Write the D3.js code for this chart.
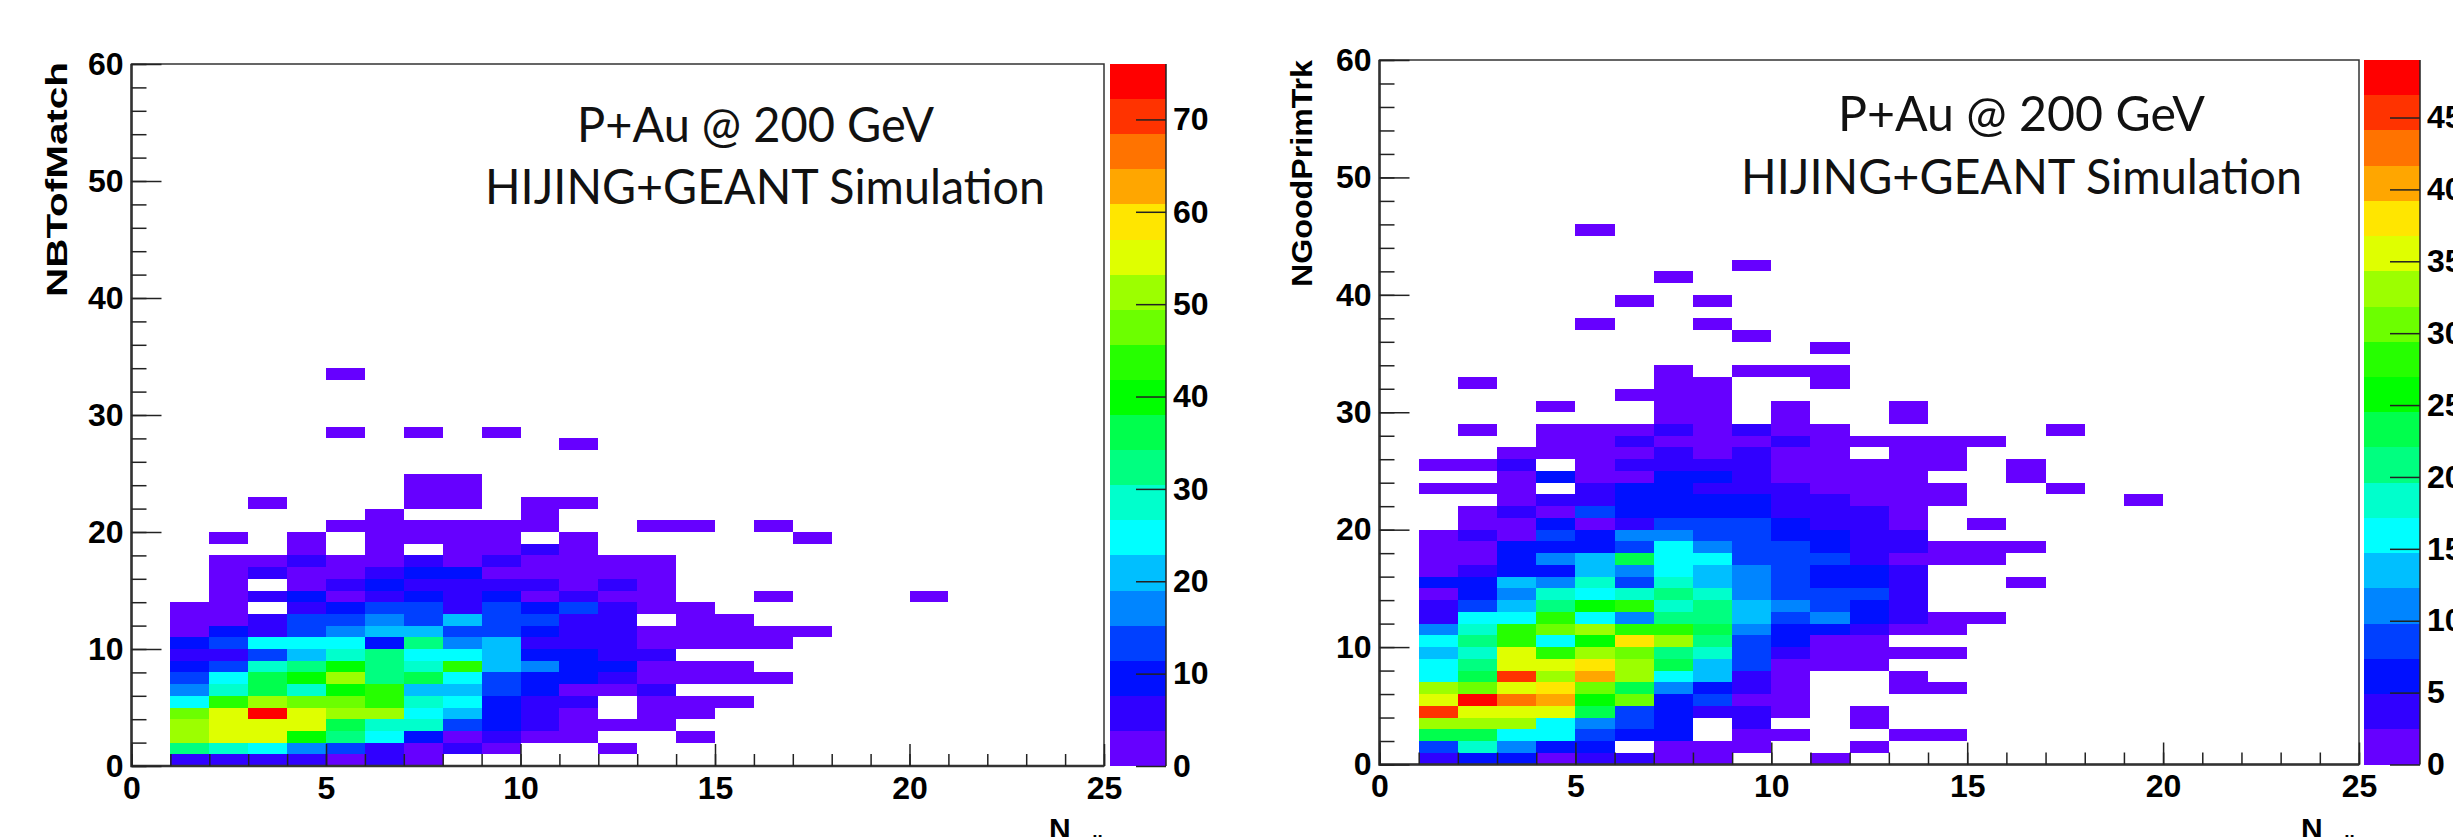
<!DOCTYPE html>
<html>
<head>
<meta charset="utf-8">
<script src="https://cdn.jsdelivr.net/npm/d3@7"></script>
<style>
  html, body { margin: 0; padding: 0; background: #fff; overflow: hidden; }
  text { font-family: "Liberation Sans", Arial, sans-serif; fill: #000; }
</style>
</head>
<body>
<svg id="chart" width="2453" height="837"></svg>
<script>
// bin contents, one array per y bin (y = 0, 1, 2...), first entry is the x bin 1-2, 0 means empty
const leftCounts = [
  [6,6,6,6,2,6,2],
  [32,29,25,17,13,6,2,6,2,0,0,2],
  [51,55,55,40,32,25,10,2,6,2,2,0,0,2],
  [51,55,55,55,36,29,29,13,10,6,2,2,2],
  [47,55,74,55,51,51,25,21,10,6,2,0,2,2],
  [25,44,51,47,47,44,29,25,10,6,6,0,2,2,2],
  [17,29,36,29,40,44,21,21,13,10,2,2,6],
  [13,25,36,40,51,32,36,25,13,10,10,6,2,2,2,2],
  [10,13,29,32,40,32,29,44,21,17,10,10,2,2,2],
  [6,6,13,21,29,32,25,25,21,10,10,6,6],
  [10,13,25,25,25,10,32,17,21,6,6,6,2,2,2,2],
  [2,10,6,13,17,21,21,13,13,10,6,6,2,2,2,2,2],
  [2,2,6,13,13,17,13,21,13,13,6,6,0,2,2],
  [2,2,0,6,10,13,13,6,13,10,13,6,2,2],
  [0,2,6,10,2,6,10,6,10,2,6,2,2,0,0,2,0,0,0,2],
  [0,2,0,2,6,10,6,6,6,6,2,6,2],
  [0,2,6,2,2,6,10,10,2,2,2,2,2],
  [0,2,2,6,2,2,6,2,6,2,2,2,2],
  [0,0,0,2,0,2,0,2,2,6,2],
  [0,2,0,2,0,2,2,2,2,0,2,0,0,0,0,0,2],
  [0,0,0,0,2,2,2,2,2,2,0,0,2,2,0,2],
  [0,0,0,0,0,2,0,0,0,2],
  [0,0,2,0,0,0,2,2,0,2,2],
  [0,0,0,0,0,0,2,2],
  [0,0,0,0,0,0,2,2],
  [],
  [],
  [0,0,0,0,0,0,0,0,0,0,2],
  [0,0,0,0,2,0,2,0,2],
  [],
  [],
  [],
  [],
  [0,0,0,0,2]
];

const rightCounts = [
  [4,6,6,1,4,4,1,1,0,0,1],
  [9,18,11,6,6,0,1,1,1,0,0,1],
  [23,23,16,16,9,6,6,0,1,1,0,0,1,1],
  [33,33,33,16,11,9,6,0,4,0,0,1],
  [45,36,36,36,23,9,6,4,4,1,0,1],
  [36,48,43,40,26,31,6,9,1,1],
  [33,31,36,38,31,23,11,6,4,1,0,0,1,1],
  [16,23,45,33,40,33,16,13,4,1,0,0,1],
  [16,21,36,36,38,33,23,13,9,1,1,1],
  [13,18,36,28,33,31,21,18,9,4,1,1,1,1],
  [16,21,28,16,26,38,33,21,9,6,1,1],
  [11,18,28,31,33,28,28,23,11,6,6,4,1,1],
  [4,16,16,28,16,11,21,21,13,9,11,6,4,1,1],
  [4,9,13,21,26,28,18,21,13,11,9,6,4],
  [1,6,11,18,16,18,21,18,11,9,9,9,4],
  [6,6,13,11,18,9,18,13,11,9,6,6,4,0,0,1],
  [1,4,6,6,13,11,16,13,11,9,6,6,4],
  [1,1,6,11,13,23,16,16,9,9,9,4,1,1,1],
  [1,1,6,6,6,9,16,11,9,9,6,4,4,1,1,1],
  [1,4,1,9,6,11,11,9,9,6,6,4,4],
  [0,1,1,6,1,4,9,9,9,6,4,4,1,0,1],
  [0,1,4,1,9,6,6,6,6,4,4,4,1],
  [0,0,1,4,4,6,6,6,6,4,4,1,1,1,0,0,0,0,1],
  [1,1,1,0,4,6,6,4,4,4,1,1,1,1,0,0,1],
  [0,0,1,6,1,1,6,6,4,1,1,1,1,0,0,1],
  [1,1,4,0,1,4,4,4,4,1,1,1,1,1,0,1],
  [0,0,1,1,1,1,4,1,4,1,1,0,1,1],
  [0,0,0,1,1,4,1,1,1,4,1,1,1,1,1],
  [0,1,0,1,1,1,4,1,4,1,1,0,0,0,0,0,1],
  [0,0,0,0,0,0,1,1,0,1,0,0,1],
  [0,0,0,1,0,0,1,1,0,1,0,0,1],
  [0,0,0,0,0,1,1,1],
  [0,1,0,0,0,0,1,1,0,0,1],
  [0,0,0,0,0,0,1,0,1,1,1],
  [],
  [0,0,0,0,0,0,0,0,0,0,1],
  [0,0,0,0,0,0,0,0,1],
  [0,0,0,0,1,0,0,1],
  [],
  [0,0,0,0,0,1,0,1],
  [],
  [0,0,0,0,0,0,1],
  [0,0,0,0,0,0,0,0,1],
  [],
  [],
  [0,0,0,0,1]
];

// ROOT rainbow palette, low to high
const palette = [
  "#6600ff", "#3000ff", "#0010ff", "#0040ff", "#0085ff",
  "#00bfff", "#00ffff", "#00ffcc", "#00ff80", "#00ff4d",
  "#00ff00", "#26ff00", "#6cff00", "#9cff00", "#dfff00",
  "#ffe600", "#ffa600", "#ff7300", "#ff3300", "#ff0000"
];

const xMajorTicks = [0, 5, 10, 15, 20, 25];
const xMinorTicks = d3.range(0, 26);
const yMajorTicks = [0, 10, 20, 30, 40, 50, 60];
const yMinorTicks = d3.range(0, 61, 2);
const leftZTicks = [0, 10, 20, 30, 40, 50, 60, 70];
const rightZTicks = [0, 5, 10, 15, 20, 25, 30, 35, 40, 45];
const leftZMax = 76;
const rightZMax = 49;
const titleLines = ["P+Au @ 200 GeV", "HIJING+GEANT Simulation"];

const svg = d3.select("#chart");

function drawPanel(p) {
  const g = svg.append("g");
  const x = d3.scaleLinear().domain([0, 25]).range([p.x0, p.x1]);
  const y = d3.scaleLinear().domain([0, 60]).range([p.y0, p.y1]);
  const z = d3.scaleQuantize().domain([0, p.zMax]).range(palette);

  // flatten the rows into cells
  const cells = [];
  p.counts.forEach(function(row, j) {
    row.forEach(function(v, i) {
      if (v > 0) cells.push({ i: i + 1, j: j, v: v });
    });
  });

  g.selectAll("rect.cell")
    .data(cells)
    .enter()
    .append("rect")
    .attr("class", "cell")
    .attr("x", function(d) { return x(d.i); })
    .attr("y", function(d) { return y(d.j + 1); })
    .attr("width", function(d) { return x(d.i + 1) - x(d.i); })
    .attr("height", function(d) { return y(d.j) - y(d.j + 1); })
    .attr("fill", function(d) { return z(d.v); })
    .attr("shape-rendering", "crispEdges");

  // frame, top and right are thinner than the axes
  g.append("rect")
    .attr("x", p.x0)
    .attr("y", p.y1)
    .attr("width", p.x1 - p.x0)
    .attr("height", p.y0 - p.y1)
    .attr("fill", "none")
    .attr("stroke", "#333")
    .attr("stroke-width", 1.5);
  g.append("path")
    .attr("d", `M${p.x0},${p.y1}V${p.y0}H${p.x1}`)
    .attr("fill", "none")
    .attr("stroke", "#333")
    .attr("stroke-width", 2.5);

  // axes, ticks point into the frame like ROOT does
  const axisFont = function(sel, size) {
    sel.selectAll("text")
      .style("font-family", "'Liberation Sans', Arial, sans-serif")
      .style("font-weight", "bold")
      .style("font-size", size + "px")
      .attr("fill", "#000");
    sel.select(".domain").remove();
    sel.selectAll("line").attr("stroke", "#222").attr("stroke-width", 1.5);
  };

  g.append("g")
    .attr("transform", `translate(0,${p.y0})`)
    .call(d3.axisBottom(x).tickValues(xMinorTicks).tickSize(-12).tickFormat(""))
    .call(axisFont, 32);
  g.append("g")
    .attr("transform", `translate(0,${p.y0})`)
    .call(d3.axisBottom(x).tickValues(xMajorTicks).tickSize(-22).tickPadding(10).tickFormat(d3.format("d")))
    .call(axisFont, 32);
  g.append("g")
    .attr("transform", `translate(${p.x0},0)`)
    .call(d3.axisLeft(y).tickValues(yMinorTicks).tickSize(-15).tickFormat(""))
    .call(axisFont, 32);
  g.append("g")
    .attr("transform", `translate(${p.x0},0)`)
    .call(d3.axisLeft(y).tickValues(yMajorTicks).tickSize(-30).tickPadding(8).tickFormat(d3.format("d")))
    .call(axisFont, 32);

  // colour bar
  const zAxis = d3.scaleLinear().domain([0, p.zMax]).range([p.y0, p.y1]);
  const bandSize = p.zMax / palette.length;
  g.selectAll("rect.band")
    .data(palette)
    .enter()
    .append("rect")
    .attr("class", "band")
    .attr("x", p.barX0)
    .attr("y", function(d, i) { return zAxis((i + 1) * bandSize); })
    .attr("width", p.barX1 - p.barX0)
    .attr("height", zAxis(0) - zAxis(bandSize))
    .attr("fill", function(d) { return d; })
    .attr("shape-rendering", "crispEdges");

  g.append("line")
    .attr("x1", p.barX1).attr("x2", p.barX1)
    .attr("y1", p.y1).attr("y2", p.y0)
    .attr("stroke", "#222")
    .attr("stroke-width", 1.5);

  g.append("g")
    .attr("transform", `translate(${p.barX1},0)`)
    .call(d3.axisRight(zAxis).tickValues(p.zTicks).tickSize(-30).tickPadding(7).tickFormat(d3.format("d")))
    .call(axisFont, 32);

  // y title
  g.append("text")
    .attr("transform", `translate(${p.yTitleX},${p.yTitleY}) rotate(-90)`)
    .attr("text-anchor", "end")
    .attr("textLength", p.yTitleLen)
    .attr("lengthAdjust", "spacingAndGlyphs")
    .style("font-weight", "bold")
    .style("font-size", "30px")
    .text(p.yTitle);

  // x title, the subscript runs off the bottom of the picture
  g.append("text")
    .attr("x", p.nX)
    .attr("y", 839)
    .style("font-weight", "bold")
    .style("font-size", "30px")
    .text("N");
  g.append("text")
    .attr("x", p.nX + 21)
    .attr("y", 848)
    .style("font-weight", "bold")
    .style("font-size", "19px")
    .text("coll");

  // pasted annotation
  titleLines.forEach(function(line, i) {
    g.append("text")
      .attr("x", p.titleX[i])
      .attr("y", p.titleY[i])
      .attr("textLength", p.titleLen[i])
      .attr("lengthAdjust", "spacingAndGlyphs")
      .style("font-family", "Lato, 'Open Sans', sans-serif")
      .style("font-size", "49px")
      .style("fill", "#111")
      .text(line);
  });
}

drawPanel({
  counts: leftCounts,
  zMax: leftZMax,
  zTicks: leftZTicks,
  x0: 131.5, x1: 1104, y0: 766, y1: 64,
  barX0: 1110, barX1: 1166,
  yTitle: "NBTofMatch",
  yTitleX: 67, yTitleY: 62, yTitleLen: 235,
  nX: 1049,
  titleX: [577, 485],
  titleY: [142, 204],
  titleLen: [357, 560]
});

drawPanel({
  counts: rightCounts,
  zMax: rightZMax,
  zTicks: rightZTicks,
  x0: 1379.5, x1: 2359, y0: 764.5, y1: 60,
  barX0: 2364, barX1: 2420,
  yTitle: "NGoodPrimTrk",
  yTitleX: 1312, yTitleY: 60, yTitleLen: 227,
  nX: 2301,
  titleX: [1838, 1741],
  titleY: [131, 194],
  titleLen: [367, 561]
});
</script>
</body>
</html>
